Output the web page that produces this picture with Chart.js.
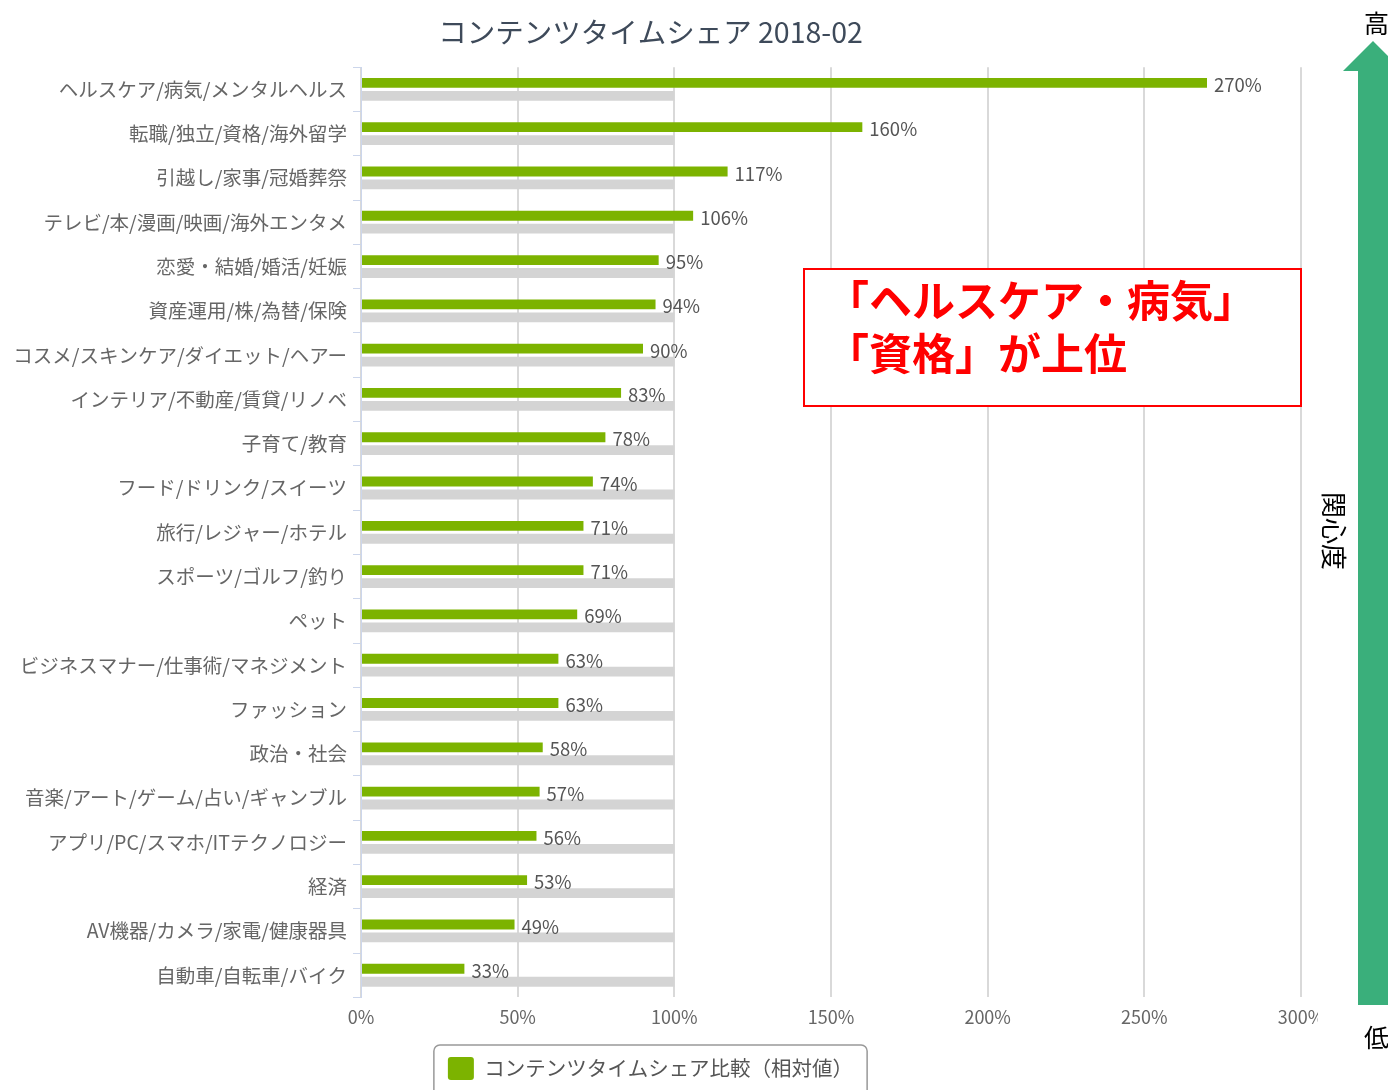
<!DOCTYPE html>
<html lang="ja">
<head>
<meta charset="utf-8">
<script src="https://cdn.jsdelivr.net/npm/chart.js@4.4.1/dist/chart.umd.min.js"></script>
<style>
  html, body { margin: 0; padding: 0; background: #fff; }
  #wrap { position: relative; width: 1388px; height: 1090px; overflow: hidden; font-family: "Noto Sans CJK JP", sans-serif; }
  #chart { position: absolute; left: 0; top: 0; }
  #note {
    position: absolute; left: 803px; top: 268px; width: 499px; height: 139px;
    border: 2px solid #ff0000; background: #fff;
    color: #ff0000; font-weight: bold; font-size: 43px; line-height: 53px;
    padding: 2px 0 0 21px; box-sizing: border-box; white-space: nowrap;
  }
  #arrow { position: absolute; left: 0; top: 0; }
  .side { position: absolute; color: #000; font-size: 25px; line-height: 1; }
  #high { left: 1364px; top: 10px; }
  #low { left: 1364px; top: 1024px; }
  #axisName { left: 1322px; top: 492px; writing-mode: vertical-rl; text-orientation: sideways; font-size: 26px; }
</style>
</head>
<body>
<div id="wrap">
  <canvas id="chart" width="1318" height="1090"></canvas>
  <svg id="arrow" width="1388" height="1090">
    <polygon points="1343,71 1373,41 1403,71 1388,71 1388,1005 1358,1005 1358,71" fill="#3aaf7b"/>
  </svg>
  <div class="side" id="high">高</div>
  <div class="side" id="low">低</div>
  <div class="side" id="axisName">関心度</div>
  <div id="note">「ヘルスケア・病気」<br>「資格」が上位</div>
</div>
<script>
const chartTitle = 'コンテンツタイムシェア 2018-02';
const categories = [
  'ヘルスケア/病気/メンタルヘルス',
  '転職/独立/資格/海外留学',
  '引越し/家事/冠婚葬祭',
  'テレビ/本/漫画/映画/海外エンタメ',
  '恋愛・結婚/婚活/妊娠',
  '資産運用/株/為替/保険',
  'コスメ/スキンケア/ダイエット/ヘアー',
  'インテリア/不動産/賃貸/リノベ',
  '子育て/教育',
  'フード/ドリンク/スイーツ',
  '旅行/レジャー/ホテル',
  'スポーツ/ゴルフ/釣り',
  'ペット',
  'ビジネスマナー/仕事術/マネジメント',
  'ファッション',
  '政治・社会',
  '音楽/アート/ゲーム/占い/ギャンブル',
  'アプリ/PC/スマホ/ITテクノロジー',
  '経済',
  'AV機器/カメラ/家電/健康器具',
  '自動車/自転車/バイク'
];
const shareLabel = 'コンテンツタイムシェア比較（相対値）';
const shareValues = [270, 160, 117, 106, 95, 94, 90, 83, 78, 74, 71, 71, 69, 63, 63, 58, 57, 56, 53, 49, 33];
const baseLabel = '基準';
const baseValues = [100, 100, 100, 100, 100, 100, 100, 100, 100, 100, 100, 100, 100, 100, 100, 100, 100, 100, 100, 100, 100];
const xTicks = [0, 50, 100, 150, 200, 250, 300];

Chart.defaults.font.family = '"Noto Sans CJK JP", "Noto Sans", sans-serif';
Chart.defaults.color = '#666';

const valueLabels = {
  id: 'valueLabels',
  afterDatasetsDraw(chart){
    const ctx = chart.ctx;
    const meta = chart.getDatasetMeta(0);
    ctx.save();
    ctx.font = '18.5px "Noto Sans CJK JP", sans-serif';
    ctx.fillStyle = '#555';
    ctx.textBaseline = 'middle';
    ctx.textAlign = 'left';
    meta.data.forEach((bar, i) => {
      ctx.fillText(shareValues[i] + '%', bar.x + 7, bar.y + 2);
    });
    ctx.restore();
  }
};

const legendFrame = {
  id: 'legendFrame',
  afterDraw(chart){
    const box = chart.legend.legendHitBoxes[0];
    if(!box) return;
    const ctx = chart.ctx;
    ctx.save();
    ctx.strokeStyle = '#999';
    ctx.lineWidth = 1.5;
    ctx.beginPath();
    ctx.roundRect(box.left - 14, box.top - 12, box.width + 28, 80, 6);
    ctx.stroke();
    ctx.restore();
  }
};

new Chart(document.getElementById('chart'), {
  type: 'bar',
  data: {
    labels: categories,
    datasets: [
      { label: shareLabel, data: shareValues, backgroundColor: '#7cb300', categoryPercentage: 0.584, barPercentage: 0.76 },
      { label: baseLabel, data: baseValues, backgroundColor: '#d4d4d4', categoryPercentage: 0.584, barPercentage: 0.76 }
    ]
  },
  options: {
    indexAxis: 'y',
    responsive: false,
    animation: false,
    layout: { padding: { left: 0, right: 17, top: 0, bottom: 0 } },
    plugins: {
      title: {
        display: true,
        text: chartTitle,
        color: '#3e4a5a',
        font: { size: 28.5, weight: 'normal' },
        padding: { top: 15, bottom: 18 }
      },
      legend: {
        position: 'bottom',
        labels: {
          filter: item => item.datasetIndex === 0,
          boxWidth: 26,
          boxHeight: 23,
          useBorderRadius: true,
          borderRadius: 3,
          color: '#555',
          font: { size: 20.5 },
          padding: 12
        }
      },
      tooltip: { enabled: false }
    },
    scales: {
      x: {
        min: 0,
        max: 300,
        afterBuildTicks(scale){ scale.ticks = xTicks.map(v => ({ value: v })); },
        afterFit(scale){ scale.paddingLeft = 0; scale.paddingRight = 0; scale.height += 8; },
        ticks: { callback: v => v + '%', font: { size: 18 }, color: '#666', padding: 9, maxRotation: 0 },
        grid: { color: '#d9d9d9', lineWidth: 2, drawTicks: false },
        border: { display: false }
      },
      y: {
        afterFit(scale){ scale.width = 361; },
        ticks: { font: { size: 19.5 }, color: '#666', padding: 6, autoSkip: false },
        grid: { drawOnChartArea: false, tickLength: 8, color: '#ccd6eb' },
        border: { color: '#ccd6eb', width: 1 }
      }
    }
  },
  plugins: [valueLabels, legendFrame]
});
</script>
</body>
</html>
